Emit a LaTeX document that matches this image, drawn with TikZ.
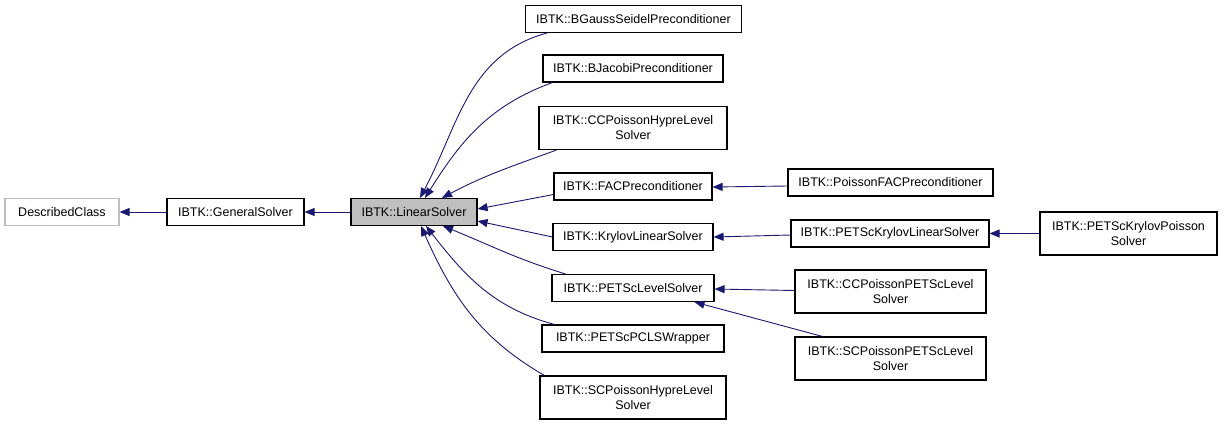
\documentclass[tikz,border=0pt]{standalone}
\usepackage{fontspec}
\setmainfont{Liberation Sans}
\usepackage{xcolor}
\usetikzlibrary{arrows.meta}
\definecolor{edgeblue}{HTML}{191970}
\definecolor{nodegray}{HTML}{BFBFBF}

\begin{document}
\begin{tikzpicture}[
      x=1pt, y=-1pt,
      cls/.style={draw, line width=1.1pt, fill=white, inner sep=0pt, minimum height=27pt, align=center,
        font=\fontsize{12.5}{15}\selectfont},
      tall/.style={minimum height=43pt},
      arrow/.style={-{Triangle[length=10pt, width=8pt]}, draw=edgeblue, line width=0.9pt}
    ]
      \useasboundingbox (0,0) rectangle (1227,424);

      \node[cls, draw=nodegray, minimum width=114pt] (described) at (62,212) {DescribedClass};
      \node[cls, minimum width=137pt] (general) at (235.5,212) {IBTK::GeneralSolver};
      \node[cls, fill=nodegray, minimum width=126pt] (linear) at (414,212) {IBTK::LinearSolver};

      \node[cls, minimum width=216pt] (bgauss) at (633.5,19) {IBTK::BGaussSeidelPreconditioner};
      \node[cls, minimum width=180pt] (bjacobi) at (633,68.5) {IBTK::BJacobiPreconditioner};
      \node[cls, tall, minimum width=188pt] (cchypre) at (633,128) {IBTK::CCPoissonHypreLevel\\Solver};
      \node[cls, minimum width=158pt] (fac) at (633,186.5) {IBTK::FACPreconditioner};
      \node[cls, minimum width=160pt] (krylov) at (633,237) {IBTK::KrylovLinearSolver};
      \node[cls, minimum width=162pt] (petsclevel) at (633,288) {IBTK::PETScLevelSolver};
      \node[cls, minimum width=182pt] (pcls) at (633,338.5) {IBTK::PETScPCLSWrapper};
      \node[cls, tall, minimum width=186pt] (schypre) at (633,397.5) {IBTK::SCPoissonHypreLevel\\Solver};

      \node[cls, minimum width=205pt] (poissonfac) at (890.5,182.5) {IBTK::PoissonFACPreconditioner};
      \node[cls, minimum width=198pt] (petsckrylov) at (890,233.5) {IBTK::PETScKrylovLinearSolver};
      \node[cls, tall, minimum width=177pt] (krylovpoisson) at (1128.5,233.5) {IBTK::PETScKrylovPoisson\\Solver};
      \node[cls, tall, minimum width=191pt] (ccpetsc) at (890.5,291.5) {IBTK::CCPoissonPETScLevel\\Solver};
      \node[cls, tall, minimum width=191pt] (scpetsc) at (890.5,358.5) {IBTK::SCPoissonPETScLevel\\Solver};

      % inheritance
      \draw[arrow] (general) -- (described);
      \draw[arrow] (linear) -- (general);

      \draw[arrow] ([xshift=22pt]bgauss.south west) to[out=195, in=62] ([xshift=6pt]linear.north);
      \draw[arrow] ([xshift=10pt]bjacobi.south west) to[out=200, in=58] ([xshift=11pt]linear.north);
      \draw[arrow] ([xshift=18pt]cchypre.south west) to[out=200, in=28] ([xshift=28pt]linear.north);
      \draw[arrow] ([yshift=-8pt]fac.west) -- ([yshift=3pt]linear.east);
      \draw[arrow] (krylov.west) -- ([yshift=-9pt]linear.east);
      \draw[arrow] ([xshift=14pt]petsclevel.north west) to[out=163, in=-22] ([xshift=29pt]linear.south);
      \draw[arrow] ([xshift=13pt]pcls.north west) to[out=165, in=-52] ([xshift=12pt]linear.south);
      \draw[arrow] ([xshift=5pt]schypre.north west) to[out=150, in=-66] ([xshift=7pt]linear.south);

      \draw[arrow] ([yshift=-3.5pt]poissonfac.west) -- ([yshift=-0.5pt]fac.east);
      \draw[arrow] ([yshift=-1.5pt]petsckrylov.west) -- (krylov.east);
      \draw[arrow] (krylovpoisson.west) -- (petsckrylov.east);
      \draw[arrow] ([yshift=1pt]ccpetsc.west) -- ([yshift=-1pt]petsclevel.east);
      \draw[arrow] ([xshift=28pt]scpetsc.north west) -- ([xshift=-20pt]petsclevel.south east);
    \end{tikzpicture}
\end{document}
